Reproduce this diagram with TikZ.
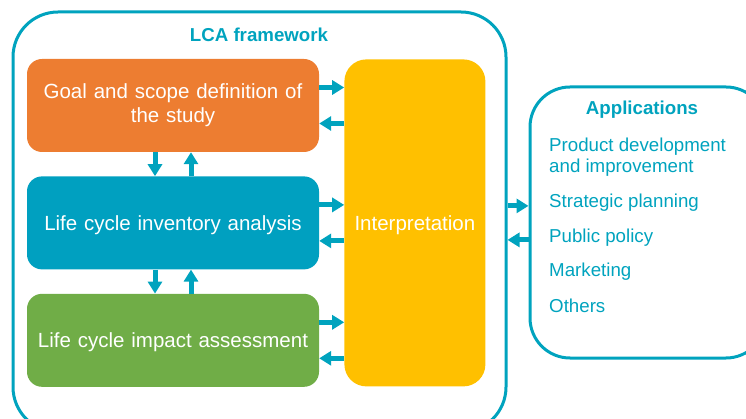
\documentclass[tikz,border=0pt]{standalone}
\usepackage{fontspec}
\setmainfont{Liberation Sans}
\usetikzlibrary{positioning,arrows.meta}

\definecolor{lcateal}{RGB}{0,163,190}
\definecolor{lcaorange}{RGB}{237,125,49}
\definecolor{lcablue}{RGB}{0,160,192}
\definecolor{lcagreen}{RGB}{112,173,71}
\definecolor{lcayellow}{RGB}{255,192,0}

\tikzset{
  phase/.style={fill=#1, rounded corners=15pt, minimum width=292pt, minimum height=93pt,
    text width=290pt, align=center, text=white, inner sep=0pt,
    font=\fontsize{20.5}{24}\selectfont},
  outline/.style={draw=lcateal, line width=3pt, inner sep=0pt},
  flow/.style={color=lcateal, line width=5pt, -{Triangle[length=12pt,width=14pt]}},
  item/.style={anchor=west, align=left, text=lcateal, inner sep=0pt,
    font=\fontsize{18.7}{21}\selectfont},
}

\begin{document}
\begin{tikzpicture}[x=1pt,y=-1pt,node distance=24pt]
  \useasboundingbox (0,0) rectangle (746,419);
  \clip (0,0) rectangle (746,419);

  % frame
  \node[outline, rounded corners=45pt, minimum width=493pt, minimum height=420pt] (frame) at (259.5,222) {};
  \node[text=lcateal, font=\fontsize{18.7}{22}\selectfont\bfseries] (lca) at (259,35) {LCA framework};

  % phases
  \node[phase=lcaorange] (goal) at (173,105.5) {Goal and scope definition of\\the study};
  \node[phase=lcablue, text depth=0pt] (lci) [below=of goal] {Life cycle inventory analysis};
  \node[phase=lcagreen, text depth=0pt] (lcia) [below=of lci] {Life cycle impact assessment};
  \node[fill=lcayellow, rounded corners=22pt, minimum width=141pt, minimum height=327pt,
    inner sep=0pt, text depth=0pt, text=white, font=\fontsize{20.5}{24}\selectfont] (interp) [right=25pt of lci] {Interpretation};

  % applications
  \node[outline, rounded corners=40pt, minimum width=236pt, minimum height=271pt] (apps) at (648,222.5) {};
  \node[text=lcateal, font=\fontsize{18.7}{22}\selectfont\bfseries] (appt) at (642,110) {Applications};
  \node[item] (pd) at (549,157) {Product development\\and improvement};
  \node[item] (sp) at (549,203) {Strategic planning};
  \node[item] (pp) at (549,238) {Public policy};
  \node[item] (mk) at (549,272) {Marketing};
  \node[item] (ot) at (549,306) {Others};

  \path[flow]
  ([xshift=-18pt]goal.south) edge ([xshift=-18pt]lci.north)
  ([xshift=18pt]lci.north) edge ([xshift=18pt]goal.south)
  ([xshift=-18pt]lci.south) edge ([xshift=-18pt]lcia.north)
  ([xshift=18pt]lcia.north) edge ([xshift=18pt]lci.south)
  ([yshift=18pt]goal.east) edge ([yshift=18pt]goal.east -| interp.west)
  ([yshift=-18pt]goal.east -| interp.west) edge ([yshift=-18pt]goal.east)
  ([yshift=18pt]lci.east) edge ([yshift=18pt]lci.east -| interp.west)
  ([yshift=-18pt]lci.east -| interp.west) edge ([yshift=-18pt]lci.east)
  ([yshift=18pt]lcia.east) edge ([yshift=18pt]lcia.east -| interp.west)
  ([yshift=-18pt]lcia.east -| interp.west) edge ([yshift=-18pt]lcia.east)
  ([yshift=17pt]lci.east -| frame.east) edge ([yshift=17pt]lci.east -| apps.west)
  ([yshift=-17pt]lci.east -| apps.west) edge ([yshift=-17pt]lci.east -| frame.east)
  ;
\end{tikzpicture}
\end{document}
